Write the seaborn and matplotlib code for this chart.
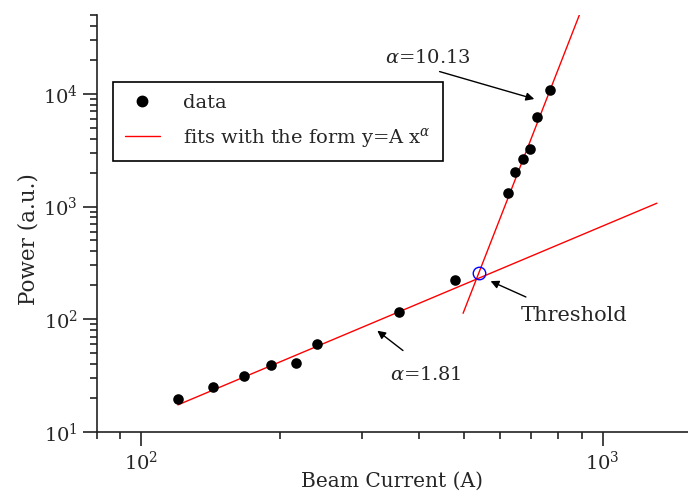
import numpy as np
import pandas as pd
import seaborn as sns
import matplotlib.pyplot as plt
from matplotlib.lines import Line2D

# measured points (beam current in A, power in a.u.)
current = [120, 143, 167, 191, 216, 240, 361, 479, 622, 646, 671, 696, 720, 769]
power = [19.6, 25.1, 31.4, 39.3, 41, 60.4, 116, 223, 1313, 2015, 2650, 3228, 6210, 10700]

# the two power-law fits, given by their end points
fit_low_x = [120, 1310]
fit_low_y = [17.4, 1070]
fit_high_x = [498, 890]
fit_high_y = [113, 50200]

# crossing point of the fits
threshold_x = [538]
threshold_y = [259]

sns.set_style('ticks')
plt.rcParams['font.family'] = ['DejaVu Serif']
plt.rcParams['mathtext.fontset'] = 'dejavuserif'

fig = plt.figure(figsize=(6.88, 4.95), dpi=100)
ax = fig.add_axes([0.1405, 0.1273, 0.8595, 0.8424])

df = pd.DataFrame({'current': current, 'power': power})
sns.lineplot(x=fit_low_x, y=fit_low_y, color='red', lw=1, ax=ax)
sns.lineplot(x=fit_high_x, y=fit_high_y, color='red', lw=1, ax=ax)
sns.scatterplot(data=df, x='current', y='power', color='black', s=58,
                edgecolor='black', linewidth=0, ax=ax, zorder=3)
ax.plot(threshold_x, threshold_y, 'o', mfc='none', mec='blue', ms=9, mew=1, zorder=4)

ax.set_xscale('log')
ax.set_yscale('log')
ax.set_xlim(80, 1530)
ax.set_ylim(10, 5e4)

ax.set_xlabel('Beam Current (A)', fontsize=14.5, labelpad=-1.5)
ax.set_ylabel('Power (a.u.)', fontsize=15.5)
ax.yaxis.set_label_coords(-0.097, 0.463)
ax.tick_params(which='major', length=10, width=1.2, labelsize=14, direction='out', color='#222222')
ax.tick_params(which='minor', length=5, width=1.2, direction='out', color='#222222')
sns.despine(ax=ax)
for s in ['left', 'bottom']:
    ax.spines[s].set_linewidth(1.2)
    ax.spines[s].set_color('#222222')

# annotations
arrow = dict(arrowstyle='-|>', color='black', lw=1, mutation_scale=12)
ax.annotate('', xy=(720, 8850), xytext=(437, 16000), arrowprops=arrow)
ax.text(417, 20800, r'$\alpha$=10.13', fontsize=14, ha='center', va='center')
ax.annotate('', xy=(321, 82), xytext=(373, 51), arrowprops=arrow)
ax.text(413, 32.1, r'$\alpha$=1.81', fontsize=14, ha='center', va='center')
ax.annotate('', xy=(564, 223), xytext=(690, 154), arrowprops=arrow)
ax.text(868, 107, 'Threshold', fontsize=15, ha='center', va='center')

handles = [
    Line2D([], [], ls='none', marker='o', color='black', ms=7.5),
    Line2D([], [], color='red', lw=1),
]
labels = ['data', r'fits with the form y=A x$^{\alpha}$']
leg = ax.legend(handles, labels, loc='upper left', bbox_to_anchor=(0.0276, 0.8386),
                borderaxespad=0, fontsize=14, frameon=True, fancybox=False,
                edgecolor='black', framealpha=1, handlelength=1.8, borderpad=0.6,
                labelspacing=0.7, handletextpad=1.2)
leg.get_frame().set_linewidth(1.2)

fig.savefig('out.png', dpi=100)
